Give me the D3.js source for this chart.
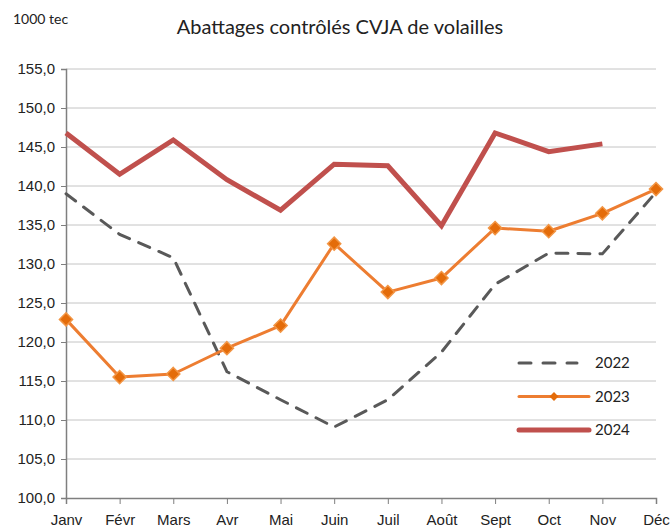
<!DOCTYPE html>
<html lang="fr">
<head>
<meta charset="UTF-8">
<title>Abattages contrôlés CVJA de volailles</title>
<script src="https://d3js.org/d3.v7.min.js"></script>
<style>
  body { margin: 0; background: #fff; font-family: Lato, "Noto Sans", sans-serif; }
</style>
</head>
<body>
<div id="chart"></div>
<script>
const months = ["Janv", "Févr", "Mars", "Avr", "Mai", "Juin", "Juil", "Août", "Sept", "Oct", "Nov", "Déc"];
const values2022 = [139.0, 133.8, 130.8, 116.2, 112.6, 109.1, 112.6, 118.7, 127.4, 131.4, 131.3, 139.2];
const values2023 = [122.9, 115.5, 115.9, 119.2, 122.1, 132.6, 126.4, 128.2, 134.6, 134.2, 136.5, 139.6];
const values2024 = [146.8, 141.5, 145.9, 140.8, 136.9, 142.8, 142.6, 134.9, 146.8, 144.4, 145.4];
const yTicks = [100, 105, 110, 115, 120, 125, 130, 135, 140, 145, 150, 155];

const width = 670, height = 532;
const margin = { top: 69, right: 14, bottom: 34, left: 66 };

const svg = d3.select("#chart").append("svg")
  .attr("width", width)
  .attr("height", height)
  .style("font-family", "Lato, 'Noto Sans', sans-serif");

const x = d3.scalePoint().domain(months).range([margin.left, width - margin.right]);
const y = d3.scaleLinear().domain([100, 155]).range([height - margin.bottom, margin.top]);
const fmt = d => d3.format(".1f")(d).replace(".", ",");

// gridlines
svg.append("g")
  .selectAll("line")
  .data(yTicks.slice(1))
  .join("line")
  .attr("x1", margin.left).attr("x2", width - margin.right)
  .attr("y1", d => y(d)).attr("y2", d => y(d))
  .attr("stroke", "#c4c4c4").attr("stroke-width", 1);

// y axis
const yAxis = svg.append("g")
  .attr("transform", `translate(${margin.left},0)`)
  .call(d3.axisLeft(y).tickValues(yTicks).tickFormat(fmt).tickSize(5).tickPadding(6));
yAxis.select(".domain").attr("stroke", "#7f7f7f").attr("stroke-width", 1.5);
yAxis.selectAll(".tick line").attr("stroke", "#7f7f7f");
yAxis.selectAll("text").attr("font-size", 15).attr("fill", "#222");

// x axis
const xAxis = svg.append("g")
  .attr("transform", `translate(0,${y(100)})`)
  .call(d3.axisBottom(x).tickSize(6).tickPadding(6));
xAxis.select(".domain").attr("stroke", "#7f7f7f").attr("stroke-width", 1.5);
xAxis.selectAll(".tick line").attr("stroke", "#7f7f7f");
xAxis.selectAll("text").attr("font-size", 15).attr("fill", "#222").attr("dy", "1em");

const line = d3.line().x((d, i) => x(months[i])).y(d => y(d));

// 2022
svg.append("path").datum(values2022)
  .attr("d", line).attr("fill", "none")
  .attr("stroke", "#595959").attr("stroke-width", 3)
  .attr("stroke-dasharray", "12,10").attr("stroke-linecap", "round");

// 2023
svg.append("path").datum(values2023)
  .attr("d", line).attr("fill", "none")
  .attr("stroke", "#ed7d31").attr("stroke-width", 3).attr("stroke-linejoin", "round");
svg.append("g").selectAll("path")
  .data(values2023)
  .join("path")
  .attr("d", d3.symbol(d3.symbolDiamond2, 110))
  .attr("transform", (d, i) => `translate(${x(months[i])},${y(d)})`)
  .attr("fill", "#e46c0a").attr("stroke", "#f29544").attr("stroke-width", 1.5);

// 2024
svg.append("path").datum(values2024)
  .attr("d", line).attr("fill", "none")
  .attr("stroke", "#c0504d").attr("stroke-width", 5).attr("stroke-linejoin", "miter");

// legend
const legend = [
  { name: "2022", color: "#595959", w: 3, dash: "12,12", marker: false },
  { name: "2023", color: "#ed7d31", w: 3, dash: null, marker: true },
  { name: "2024", color: "#c0504d", w: 5, dash: null, marker: false }
];
const lg = svg.append("g").selectAll("g").data(legend).join("g")
  .attr("transform", (d, i) => `translate(519,${363 + i * 33.5})`);
lg.append("line")
  .attr("x1", 0).attr("x2", d => d.marker ? 70 : (d.dash ? 58 : 70))
  .attr("stroke", d => d.color).attr("stroke-width", d => d.w)
  .attr("stroke-dasharray", d => d.dash).attr("stroke-linecap", "round");
lg.filter(d => d.marker).append("path")
  .attr("d", d3.symbol(d3.symbolDiamond2, 50))
  .attr("transform", "translate(35,0)")
  .attr("fill", "#e46c0a");
lg.append("text").attr("x", 76).attr("dy", "0.35em")
  .attr("font-size", 15).attr("fill", "#222").text(d => d.name);

// titles
svg.append("text").attr("x", 13).attr("y", 24)
  .attr("font-size", 14).attr("fill", "#222").text("1000 tec");
svg.append("text").attr("x", 340).attr("y", 34).attr("text-anchor", "middle")
  .attr("font-size", 20).attr("fill", "#222").text("Abattages contrôlés CVJA de volailles");
</script>
</body>
</html>
